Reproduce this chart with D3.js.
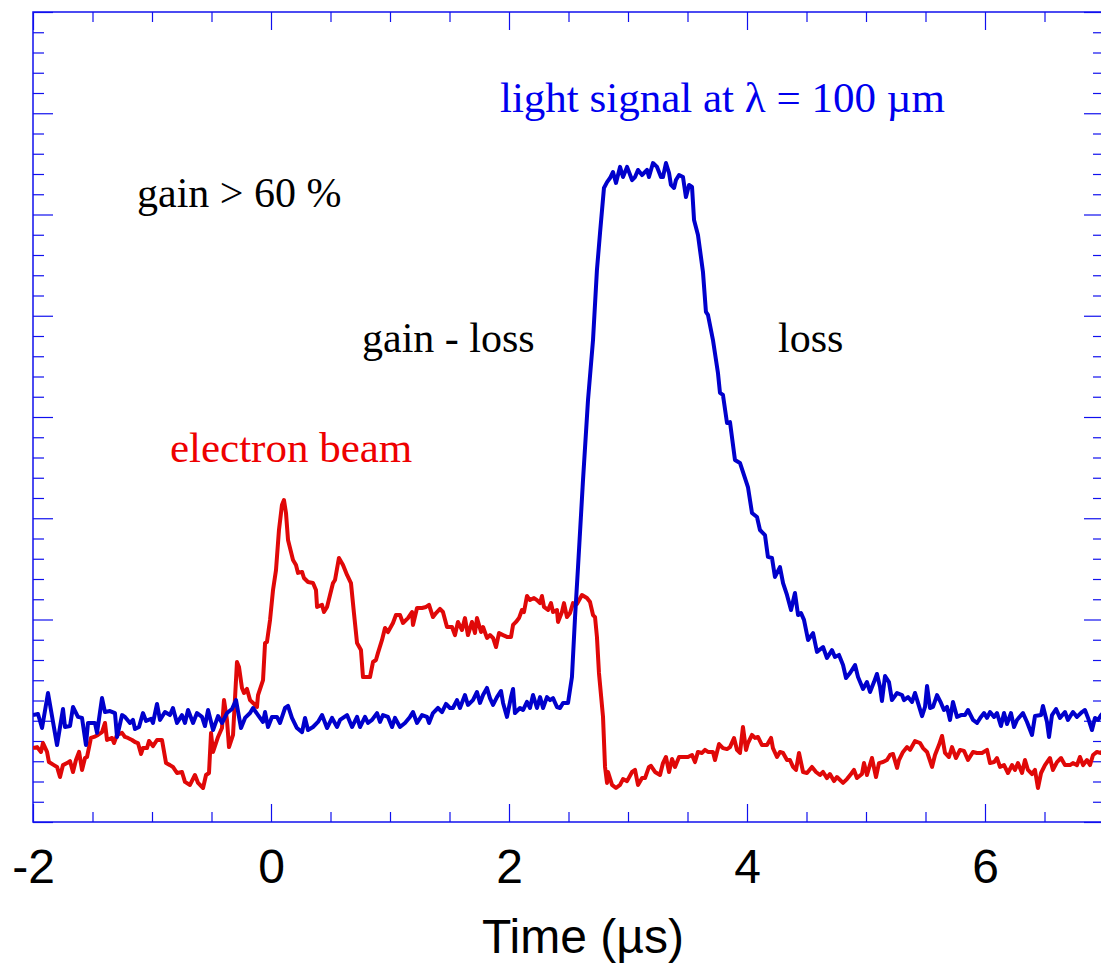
<!DOCTYPE html>
<html><head><meta charset="utf-8">
<script src="https://cdn.jsdelivr.net/npm/d3@7"></script>
<style>body{margin:0;background:#fff}svg{display:block}</style>
</head><body>
<svg id="chart" width="1101" height="965"></svg>
<script>
// ---- axis tick values ----
const xMajorTicks = [-2, 0, 2, 4, 6];
const xTickLabels = ["-2", "0", "2", "4", "6"];
const xMinorTicks = [-1.5, -1, -0.5, 0.5, 1, 1.5, 2.5, 3, 3.5, 4.5, 5, 5.5, 6.5];
const yMajorTicks = [0, 5, 10, 15, 20, 25, 30, 35, 40];
const yMinorTicks = [1,2,3,4,6,7,8,9,11,12,13,14,16,17,18,19,21,22,23,24,26,27,28,29,31,32,33,34,36,37,38,39];
const xAxisTitle = "Time (\u00b5s)";

// ---- series: [time (µs), signal (arb. units)] ----
const lightSignal = [
[-2.000,5.28],[-1.958,5.33],[-1.924,4.64],[-1.874,6.37],[-1.798,3.80],[-1.748,5.58],[-1.731,4.69],[-1.689,4.74],[-1.664,5.68],[-1.622,5.19],[-1.588,5.14],[-1.555,3.80],[-1.538,4.89],[-1.479,4.89],[-1.462,4.40],[-1.420,6.12],[-1.395,5.43],[-1.353,5.48],[-1.311,5.38],[-1.294,4.20],[-1.252,5.28],[-1.227,5.19],[-1.185,4.89],[-1.160,5.04],[-1.143,4.59],[-1.109,4.69],[-1.076,5.38],[-1.050,4.99],[-1.008,5.09],[-0.992,4.89],[-0.958,5.83],[-0.933,5.04],[-0.891,5.43],[-0.849,5.28],[-0.824,5.63],[-0.790,4.89],[-0.748,5.28],[-0.723,4.89],[-0.697,5.53],[-0.655,4.89],[-0.622,5.38],[-0.580,5.19],[-0.555,4.74],[-0.529,5.53],[-0.487,4.54],[-0.445,5.23],[-0.412,4.89],[-0.370,5.38],[-0.328,5.58],[-0.294,6.02],[-0.252,4.64],[-0.218,5.14],[-0.176,5.38],[-0.151,5.63],[-0.109,5.28],[-0.067,4.94],[-0.050,5.43],[-0.025,4.69],[0.008,5.19],[0.050,5.19],[0.076,4.89],[0.118,5.63],[0.143,5.73],[0.176,5.14],[0.218,4.64],[0.261,4.44],[0.286,5.14],[0.311,4.54],[0.353,4.69],[0.395,4.94],[0.429,5.28],[0.471,4.64],[0.513,5.14],[0.555,4.69],[0.580,5.04],[0.639,5.28],[0.681,4.69],[0.723,5.19],[0.748,4.69],[0.790,5.19],[0.815,4.89],[0.849,5.04],[0.891,5.38],[0.916,4.94],[0.941,5.28],[0.983,5.19],[1.017,4.69],[1.042,5.14],[1.084,4.69],[1.126,4.89],[1.168,5.19],[1.193,5.43],[1.227,4.89],[1.269,5.28],[1.311,5.19],[1.328,4.89],[1.361,5.38],[1.403,5.63],[1.437,5.43],[1.471,5.83],[1.504,5.63],[1.529,5.63],[1.563,6.02],[1.588,5.63],[1.630,6.27],[1.655,5.78],[1.697,6.02],[1.731,6.42],[1.756,5.88],[1.782,6.27],[1.815,6.62],[1.840,6.12],[1.866,5.78],[1.899,6.17],[1.933,6.47],[1.950,5.88],[1.983,5.19],[2.017,6.17],[2.034,6.57],[2.050,5.38],[2.092,5.63],[2.118,5.53],[2.151,5.93],[2.176,5.63],[2.202,6.27],[2.235,5.63],[2.261,6.17],[2.286,5.63],[2.319,6.17],[2.345,6.02],[2.370,6.12],[2.403,5.68],[2.429,5.63],[2.454,5.88],[2.496,5.88],[2.529,7.16],[2.555,10.12],[2.580,12.59],[2.622,16.89],[2.664,20.84],[2.706,23.80],[2.739,27.26],[2.765,29.09],[2.798,31.31],
[2.824,31.60],[2.849,31.80],[2.874,32.10],[2.899,31.56],[2.933,32.35],[2.958,31.85],[2.992,32.35],[3.034,31.70],[3.059,31.85],[3.084,32.20],[3.118,31.95],[3.160,32.20],[3.176,31.85],[3.210,32.54],[3.244,32.35],[3.277,31.85],[3.294,31.85],[3.319,32.54],[3.345,32.05],[3.361,31.46],[3.387,31.31],[3.403,31.70],[3.429,31.95],[3.462,31.85],[3.487,30.86],[3.513,31.46],[3.538,31.36],[3.555,29.73],[3.588,28.99],[3.630,27.16],[3.655,25.19],[3.672,25.04],[3.714,23.80],[3.756,22.17],[3.773,21.19],[3.798,21.09],[3.832,19.70],[3.857,19.75],[3.899,17.88],[3.941,17.73],[4.008,16.54],[4.042,15.26],[4.084,15.06],[4.109,14.42],[4.151,14.17],[4.176,13.09],[4.210,13.04],[4.235,12.10],[4.277,12.59],[4.303,11.80],[4.336,11.21],[4.370,10.47],[4.403,11.31],[4.429,10.22],[4.454,10.32],[4.479,9.98],[4.513,8.99],[4.555,9.33],[4.588,8.40],[4.639,8.64],[4.672,8.10],[4.714,8.49],[4.739,8.15],[4.773,8.25],[4.807,7.75],[4.832,7.11],[4.866,7.36],[4.908,7.75],[4.933,7.16],[4.975,6.57],[5.008,6.91],[5.034,6.42],[5.067,6.91],[5.092,7.31],[5.118,6.67],[5.134,5.98],[5.160,7.21],[5.193,6.91],[5.218,6.02],[5.261,6.37],[5.303,6.27],[5.319,6.02],[5.353,6.17],[5.387,5.93],[5.412,6.37],[5.437,5.88],[5.471,5.23],[5.496,5.68],[5.513,6.72],[5.538,5.63],[5.563,5.68],[5.597,6.27],[5.630,5.88],[5.655,5.53],[5.681,5.68],[5.706,5.04],[5.731,5.93],[5.765,5.19],[5.798,5.28],[5.832,5.28],[5.857,5.53],[5.899,5.04],[5.933,4.89],[5.966,5.19],[5.992,5.38],[6.017,5.14],[6.042,5.43],[6.076,5.19],[6.101,5.38],[6.134,4.74],[6.160,5.38],[6.185,4.84],[6.218,5.38],[6.244,4.69],[6.269,5.04],[6.319,5.38],[6.353,4.94],[6.395,4.30],[6.420,5.23],[6.471,5.28],[6.487,5.73],[6.521,4.94],[6.538,4.20],[6.563,5.28],[6.597,5.58],[6.630,5.14],[6.672,5.43],[6.697,5.04],[6.739,5.43],[6.773,5.19],[6.815,5.43],[6.840,5.53],[6.866,5.14],[6.899,4.54],[6.924,5.14],[6.950,5.04],[6.975,5.28],[7.000,5.43]
];

const electronBeam = [
[-2.000,3.65],[-1.966,3.70],[-1.933,3.46],[-1.916,3.90],[-1.882,3.46],[-1.866,2.96],[-1.824,2.81],[-1.798,2.72],[-1.773,2.22],[-1.748,2.81],[-1.714,2.91],[-1.689,3.01],[-1.664,2.47],[-1.639,3.06],[-1.613,3.46],[-1.588,2.57],[-1.563,3.16],[-1.546,3.21],[-1.513,4.15],[-1.487,4.20],[-1.454,4.30],[-1.420,4.44],[-1.395,4.89],[-1.378,4.05],[-1.336,4.15],[-1.319,3.90],[-1.294,4.30],[-1.252,4.40],[-1.227,4.20],[-1.202,4.15],[-1.168,4.05],[-1.143,3.95],[-1.118,3.90],[-1.092,3.36],[-1.076,3.65],[-1.042,3.65],[-1.025,4.00],[-0.992,3.75],[-0.958,4.05],[-0.916,4.05],[-0.882,2.91],[-0.849,2.81],[-0.824,2.72],[-0.790,2.42],[-0.748,2.47],[-0.723,1.98],[-0.681,1.83],[-0.639,2.32],[-0.613,1.93],[-0.571,1.68],[-0.546,2.32],[-0.521,2.42],[-0.504,4.40],[-0.487,3.46],[-0.445,4.20],[-0.412,4.64],[-0.395,6.02],[-0.370,5.04],[-0.353,3.70],[-0.319,4.30],[-0.286,7.90],[-0.269,7.65],[-0.244,6.62],[-0.227,6.37],[-0.202,6.57],[-0.176,6.02],[-0.151,5.88],[-0.118,5.68],[-0.109,6.27],[-0.067,7.01],[-0.050,8.84],[-0.034,8.89],[-0.008,9.98],[0.017,11.46],[0.042,12.44],[0.067,14.42],[0.092,15.65],[0.109,15.90],[0.126,15.26],[0.143,13.93],[0.185,12.94],[0.210,12.69],[0.227,12.30],[0.261,12.35],[0.277,12.05],[0.311,11.85],[0.353,11.80],[0.378,11.46],[0.387,10.62],[0.429,10.72],[0.445,10.37],[0.471,10.62],[0.496,11.21],[0.521,11.80],[0.538,11.95],[0.571,13.04],[0.605,12.69],[0.639,12.20],[0.672,11.80],[0.697,10.32],[0.723,8.84],[0.756,8.49],[0.773,7.16],[0.832,7.16],[0.857,7.90],[0.882,8.00],[0.899,8.35],[0.933,8.99],[0.958,9.58],[0.983,9.38],[1.025,9.83],[1.050,10.22],[1.084,10.22],[1.109,9.83],[1.151,10.07],[1.185,10.37],[1.193,9.73],[1.227,10.57],[1.269,10.57],[1.303,10.62],[1.328,10.72],[1.361,10.12],[1.387,10.32],[1.420,10.52],[1.445,10.37],[1.479,9.63],[1.521,9.63],[1.546,9.23],[1.571,9.88],[1.605,9.48],[1.630,10.07],[1.655,9.23],[1.689,9.88],[1.714,9.33],[1.731,10.07],[1.765,9.38],[1.782,9.63],[1.815,9.09],[1.840,9.23],[1.866,9.09],[1.891,8.64],[1.916,9.33],[1.950,9.23],[1.983,9.14],[2.017,9.14],[2.034,9.73],[2.059,9.88],[2.084,10.07],[2.109,10.47],[2.126,10.37],[2.151,11.16],[2.176,10.96],[2.210,11.06],[2.235,10.96],[2.261,10.81],[2.277,11.16],[2.294,10.62],[2.328,10.47],[2.353,10.81],[2.370,10.37],[2.403,10.47],[2.412,9.88],[2.445,10.37],[2.462,10.81],[2.487,10.12],[2.513,10.32],[2.538,10.81],[2.571,10.77],[2.613,11.21],[2.655,11.06],[2.681,10.86],[2.706,10.22],[2.723,10.12],[2.739,9.14],[2.756,7.36],[2.790,5.19],[2.807,2.72],[2.824,1.93],[2.832,2.47],[2.866,1.83],[2.899,1.68],[2.933,1.83],[2.958,2.12],[2.992,2.02],[3.034,2.47],[3.059,2.57],[3.084,1.83],[3.118,2.17],[3.143,2.17],[3.176,2.72],[3.193,2.77],[3.227,2.47],[3.269,2.32],[3.294,2.91],[3.319,3.21],[3.345,2.47],[3.370,3.11],[3.395,2.72],[3.429,3.21],[3.462,3.21],[3.504,3.21],[3.538,3.31],[3.563,2.96],[3.588,3.46],[3.622,3.41],[3.647,3.56],[3.672,3.46],[3.714,3.46],[3.731,3.06],[3.765,3.85],[3.798,3.65],[3.832,3.60],[3.857,3.70],[3.891,4.15],[3.916,3.56],[3.941,3.41],[3.966,4.69],[3.992,3.56],[4.008,3.90],[4.042,4.30],[4.067,4.15],[4.092,4.20],[4.126,3.80],[4.168,3.80],[4.202,4.15],[4.218,3.65],[4.252,3.21],[4.277,3.46],[4.303,3.41],[4.336,3.06],[4.361,3.06],[4.387,2.72],[4.412,2.57],[4.437,3.41],[4.471,2.47],[4.504,2.42],[4.546,2.72],[4.580,2.47],[4.613,2.32],[4.639,2.47],[4.672,2.17],[4.697,2.37],[4.731,2.02],[4.756,2.22],[4.807,1.93],[4.840,2.12],[4.874,2.37],[4.899,2.57],[4.924,2.17],[4.966,2.37],[4.983,2.91],[5.008,2.32],[5.050,3.16],[5.084,2.22],[5.109,2.91],[5.143,2.96],[5.176,3.06],[5.202,3.31],[5.227,3.36],[5.261,2.67],[5.277,3.06],[5.311,3.46],[5.345,3.70],[5.370,3.56],[5.412,4.00],[5.454,3.90],[5.479,3.65],[5.513,3.46],[5.555,2.72],[5.580,3.31],[5.613,3.80],[5.639,4.25],[5.664,3.41],[5.697,3.21],[5.723,3.70],[5.756,3.16],[5.790,3.56],[5.824,3.51],[5.857,3.06],[5.899,3.46],[5.933,3.41],[5.975,3.41],[6.017,3.56],[6.042,2.91],[6.076,2.96],[6.101,3.16],[6.126,2.72],[6.160,2.81],[6.193,2.42],[6.227,2.81],[6.252,2.57],[6.277,2.91],[6.311,2.42],[6.336,3.06],[6.361,2.57],[6.395,2.37],[6.420,2.57],[6.445,1.68],[6.471,2.42],[6.504,2.81],[6.546,3.16],[6.571,2.57],[6.605,2.96],[6.639,3.16],[6.672,2.81],[6.714,2.81],[6.739,2.91],[6.773,2.81],[6.798,3.21],[6.824,2.81],[6.857,3.06],[6.882,2.81],[6.908,3.31],[6.941,3.46],[6.975,3.41],[7.000,3.56]
];

// ---- annotations (text, anchor time, anchor signal) ----
const annotationText = ["light signal at \u03bb = 100 \u00b5m", "gain > 60 %", "gain - loss", "loss", "electron beam"];
const annotationTime = [1.924, -1.126, 0.765, 4.261, -0.849];
const annotationSignal = [35.06, 30.37, 23.21, 23.21, 17.78];
const annotationColor = ["#0000ee", "#000000", "#000000", "#000000", "#ee0000"];
const annotationSize = [43, 42, 42, 42, 43];

// ---- layout ----
const svg = d3.select("#chart");
const margin = {left: 33, top: 12, right: 1104, bottom: 822};
const x = d3.scaleLinear().domain([-2, 7]).range([margin.left, margin.right]);
const y = d3.scaleLinear().domain([0, 40]).range([margin.bottom, margin.top]);
const axisColor = "#1010ee";
const sansFont = "Arial, 'Liberation Sans', Helvetica, sans-serif";
const serifFont = "'Times New Roman', 'Liberation Serif', Times, serif";

svg.append("defs").append("clipPath").attr("id", "plotClip")
  .append("rect").attr("x", margin.left).attr("y", margin.top)
  .attr("width", margin.right - margin.left).attr("height", margin.bottom - margin.top);

function styleAxis(g) {
  g.select(".domain").remove();
  g.selectAll(".tick line").attr("stroke", axisColor).attr("stroke-width", 1.2);
}

// bottom axis: major with labels
svg.append("g").attr("transform", `translate(0,${margin.bottom})`)
  .call(d3.axisBottom(x).tickValues(xMajorTicks).tickSize(-18).tickPadding(27)
    .tickFormat((d, i) => xTickLabels[i]))
  .call(styleAxis)
  .call(g => g.selectAll(".tick text").attr("font-family", sansFont).attr("font-size", 48).attr("fill", "#000"));
svg.append("g").attr("transform", `translate(0,${margin.bottom})`)
  .call(d3.axisBottom(x).tickValues(xMinorTicks).tickSize(-10).tickFormat(""))
  .call(styleAxis);
// top axis
svg.append("g").attr("transform", `translate(0,${margin.top})`)
  .call(d3.axisTop(x).tickValues(xMajorTicks).tickSize(-18).tickFormat(""))
  .call(styleAxis);
svg.append("g").attr("transform", `translate(0,${margin.top})`)
  .call(d3.axisTop(x).tickValues(xMinorTicks).tickSize(-10).tickFormat(""))
  .call(styleAxis);
// left axis
svg.append("g").attr("transform", `translate(${margin.left},0)`)
  .call(d3.axisLeft(y).tickValues(yMajorTicks).tickSize(-20).tickFormat(""))
  .call(styleAxis);
svg.append("g").attr("transform", `translate(${margin.left},0)`)
  .call(d3.axisLeft(y).tickValues(yMinorTicks).tickSize(-11).tickFormat(""))
  .call(styleAxis);
// right axis
svg.append("g").attr("transform", `translate(${margin.right},0)`)
  .call(d3.axisRight(y).tickValues(yMajorTicks).tickSize(-20).tickFormat(""))
  .call(styleAxis);
svg.append("g").attr("transform", `translate(${margin.right},0)`)
  .call(d3.axisRight(y).tickValues(yMinorTicks).tickSize(-11).tickFormat(""))
  .call(styleAxis);

// frame
svg.append("rect").attr("x", margin.left).attr("y", margin.top)
  .attr("width", margin.right - margin.left).attr("height", margin.bottom - margin.top)
  .attr("fill", "none").attr("stroke", axisColor).attr("stroke-width", 1.5);

// axis title
svg.append("text").attr("x", 583).attr("y", 953).attr("text-anchor", "middle")
  .attr("font-family", sansFont).attr("font-size", 48).attr("fill", "#000").text(xAxisTitle);

// curves
const line = d3.line().x(d => x(d[0])).y(d => y(d[1]));
const plot = svg.append("g").attr("clip-path", "url(#plotClip)");
plot.append("path").datum(electronBeam).attr("d", line)
  .attr("fill", "none").attr("stroke", "#e00808").attr("stroke-width", 4).attr("stroke-linejoin", "round");
plot.append("path").datum(lightSignal).attr("d", line)
  .attr("fill", "none").attr("stroke", "#0000cc").attr("stroke-width", 4).attr("stroke-linejoin", "round");

// annotations
annotationText.forEach((t, i) => {
  svg.append("text").attr("x", x(annotationTime[i])).attr("y", y(annotationSignal[i]))
    .attr("font-family", serifFont).attr("font-size", annotationSize[i]).attr("fill", annotationColor[i]).text(t);
});
</script>
</body></html>
